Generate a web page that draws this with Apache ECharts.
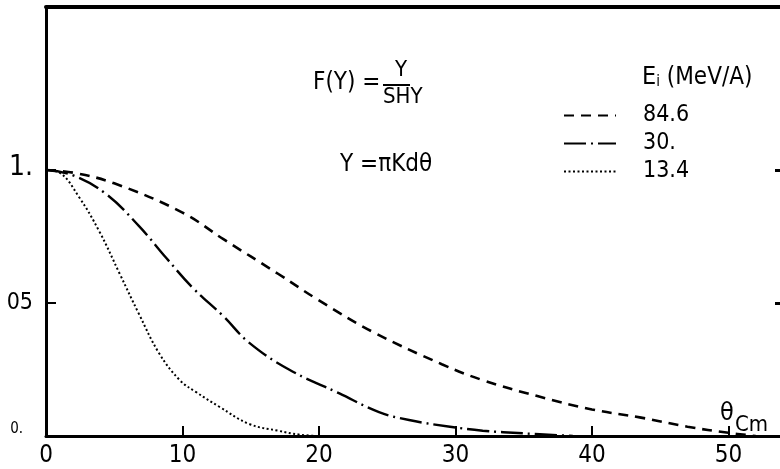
<!DOCTYPE html>
<html>
<head>
<meta charset="utf-8">
<script src="https://cdn.jsdelivr.net/npm/echarts@6/dist/echarts.min.js"></script>
<style>
  html, body { margin: 0; padding: 0; background: #fff; }
  #chart { width: 780px; height: 469px; }
</style>
</head>
<body>
<div id="chart"></div>
<script>
// Scattering angle (centre-of-mass, degrees) and form factor F(Y) for three beam energies
const theta846 = [0, 2, 5, 10, 13, 17, 20, 24, 29, 32, 36, 40, 43.5, 47, 50, 52];
const f846     = [1, 0.99, 0.95, 0.84, 0.74, 0.61, 0.51, 0.39, 0.27, 0.21, 0.15, 0.10, 0.07, 0.035, 0.012, 0.0];

const theta30  = [0, 2, 4.4, 6.8, 8.8, 10.7, 13, 14.9, 17.8, 21.5, 24.4, 26.6, 29.6, 32, 35, 38.6];
const f30      = [1, 0.98, 0.91, 0.79, 0.67, 0.56, 0.45, 0.35, 0.25, 0.16, 0.09, 0.06, 0.035, 0.02, 0.01, 0.0];

const theta134 = [0, 1, 2.4, 3.9, 5.4, 6.8, 8.3, 9.8, 11, 12.7, 14.9, 17, 18.6, 20];
const f134     = [1, 0.99, 0.90, 0.77, 0.61, 0.46, 0.31, 0.21, 0.165, 0.11, 0.045, 0.02, 0.005, 0.0];

const seriesNames = ['84.6', '30.', '13.4'];

// Axis ticks and their printed labels
const xTickValues = [0, 10, 20, 30, 40, 50];
const yTickValues = [0, 0.5, 1];
const yTickLabels = ['0.', '05', '1.'];
const yMarkedTicks = [0.5, 1];

const X_MAX = 54;
const Y_MAX = 1.613;

const FONT = '"Liberation Sans Narrow", "DejaVu Sans Condensed", "Liberation Sans", sans-serif';
const INK = '#000';

function pairs(xs, ys) { return xs.map((x, i) => [x, ys[i]]); }

const chart = echarts.init(document.getElementById('chart'), null, { renderer: 'canvas' });

const axisLineStyle = { color: INK, width: 3 };
const hidden = { show: false };
const hiddenLine = { show: false, onZero: false };

// An axis that only carries tick marks, pulled into the plot by `offset`
// so that its outward ticks end on the frame line.
function tickOnlyX(offset, len) {
  return {
    type: 'value', min: 0, max: X_MAX, interval: 10, position: 'bottom', offset: offset,
    axisLine: hiddenLine, axisLabel: hidden, splitLine: hidden,
    axisTick: { show: true, length: len, lineStyle: { color: INK, width: 2 }, customValues: xTickValues.slice(1) }
  };
}
function tickOnlyY(pos, offset, len, w) {
  return {
    type: 'value', min: 0, max: Y_MAX, position: pos, offset: offset,
    axisLine: hiddenLine, axisLabel: hidden, splitLine: hidden,
    axisTick: { show: true, length: len, lineStyle: { color: INK, width: w }, customValues: yMarkedTicks }
  };
}

const option = {
  animation: false,
  backgroundColor: '#fff',
  color: [INK, INK, INK],
  grid: { left: 46, top: 7, width: 737, height: 429, containLabel: false, outerBoundsMode: 'none' },
  xAxis: [
    {
      type: 'value', min: 0, max: X_MAX, interval: 10, position: 'bottom',
      axisLine: { show: true, onZero: false, lineStyle: axisLineStyle },
      axisTick: hidden,
      axisLabel: {
        customValues: xTickValues,
        formatter: v => String(v),
        color: INK, fontFamily: FONT, fontSize: 24, margin: 8
      },
      splitLine: hidden
    },
    {
      type: 'value', min: 0, max: X_MAX, position: 'top',
      axisLine: { show: true, onZero: false, lineStyle: { color: INK, width: 4 } },
      axisTick: hidden, axisLabel: hidden, splitLine: hidden
    },
    tickOnlyX(-10, 10)
  ],
  yAxis: [
    {
      type: 'value', min: 0, max: Y_MAX, position: 'left',
      axisLine: { show: true, onZero: false, lineStyle: axisLineStyle },
      axisTick: hidden,
      axisLabel: {
        customValues: yTickValues,
        formatter: v => {
          const i = yTickValues.indexOf(v);
          const t = i >= 0 ? yTickLabels[i] : '';
          if (v === 0) return '{s|' + t + '}';
          if (v === 1) return '{b|' + t + '}';
          return '{m|' + t + '}';
        },
        margin: 13,
        rich: {
          s: { fontFamily: FONT, fontSize: 15, color: INK, padding: [0, 10, 14, 0] },
          m: { fontFamily: FONT, fontSize: 23, color: INK },
          b: { fontFamily: FONT, fontSize: 28, color: INK, padding: [0, 0, 4, 0] }
        }
      },
      splitLine: hidden
    },
    tickOnlyY('left', -10, 10, 2),
    tickOnlyY('right', -8, 8, 3)
  ],
  legend: {
    data: seriesNames,
    orient: 'vertical',
    left: 563, top: 104, padding: 0,
    itemWidth: 52, itemHeight: 14, itemGap: 5,
    itemStyle: { opacity: 0 },
    textStyle: { fontFamily: FONT, fontSize: 23, lineHeight: 22, color: INK, padding: [0, 0, 0, 22] },
    inactiveColor: INK
  },
  series: [
    {
      name: seriesNames[0], type: 'line', data: pairs(theta846, f846),
      smooth: 0.4, symbol: 'none', color: INK,
      lineStyle: { color: INK, width: 2.6, type: [10, 7] }
    },
    {
      name: seriesNames[1], type: 'line', data: pairs(theta30, f30),
      smooth: 0.4, symbol: 'none', color: INK,
      lineStyle: { color: INK, width: 2.4, type: [22, 5, 2, 5] }
    },
    {
      name: seriesNames[2], type: 'line', data: pairs(theta134, f134),
      smooth: 0.4, symbol: 'none', color: INK,
      lineStyle: { color: INK, width: 2, type: [2, 2.5] }
    }
  ],
  graphic: [
    // F(Y) = Y / SHY
    { type: 'text', left: 313, top: 71, style: { text: 'F(Y) =', font: '24px ' + FONT, fill: INK } },
    { type: 'text', left: 395, top: 59, style: { text: 'Y', font: '22px ' + FONT, fill: INK } },
    { type: 'line', shape: { x1: 383, y1: 85, x2: 410, y2: 85 }, style: { stroke: INK, lineWidth: 2 } },
    { type: 'text', left: 383, top: 86, style: { text: 'SHY', font: '22px ' + FONT, fill: INK } },
    // Y = πKdθ
    { type: 'text', left: 340, top: 153, style: { text: 'Y =πKdθ', font: '24px ' + FONT, fill: INK } },
    // legend heading: E_i (MeV/A)
    {
      type: 'text', left: 642, top: 65,
      style: {
        text: '{e|E}{i|i}{t| (MeV/A)}',
        rich: {
          e: { font: '25px ' + FONT, fill: INK },
          i: { font: '15px ' + FONT, fill: INK, padding: [10, 0, 0, 0] },
          t: { font: '24px ' + FONT, fill: INK }
        }
      }
    },
    // x-axis title θ_Cm
    { type: 'text', left: 720, top: 401, style: { text: 'θ', font: '25px ' + FONT, fill: INK } },
    { type: 'text', left: 735, top: 414, style: { text: 'Cm', font: '22px ' + FONT, fill: INK } }
  ]
};

chart.setOption(option);
</script>
</body>
</html>
